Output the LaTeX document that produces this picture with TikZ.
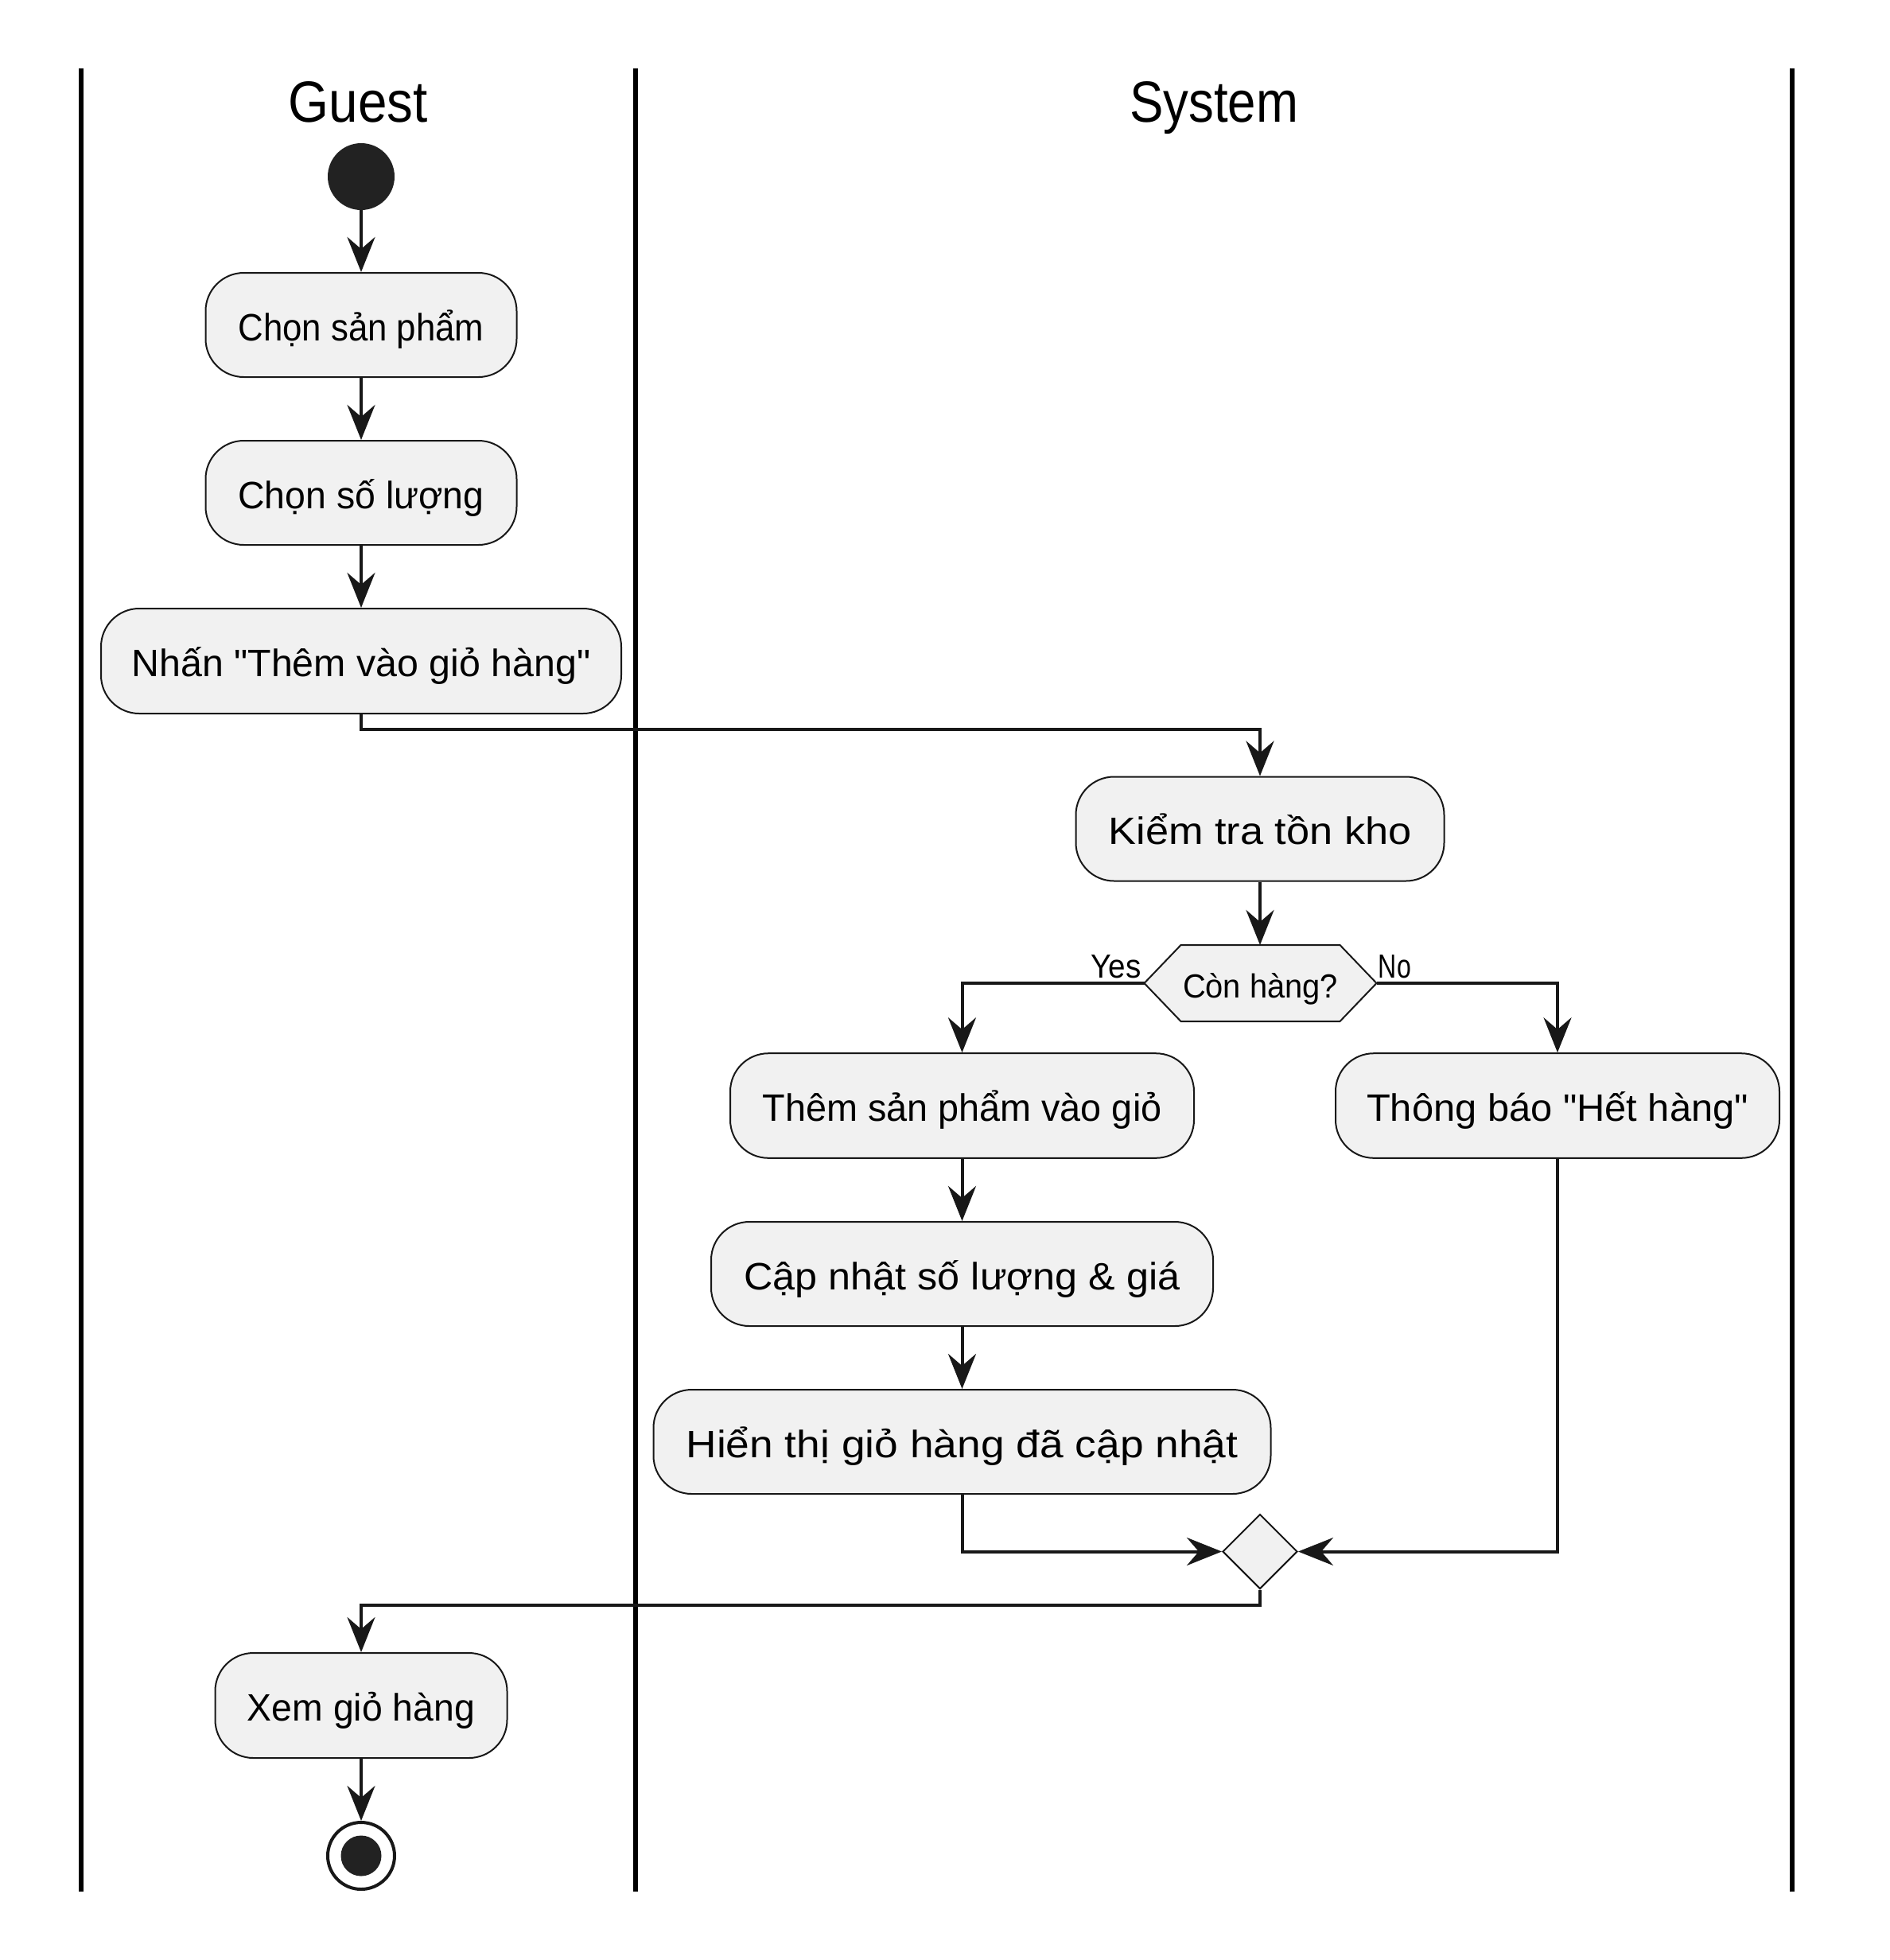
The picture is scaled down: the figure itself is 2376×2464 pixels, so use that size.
\documentclass[tikz,border=0pt]{standalone}
\usepackage{fontspec}
\setmainfont{Liberation Sans}[Ligatures=TeXOff]
\usetikzlibrary{arrows.meta, shapes.geometric, calc}
\definecolor{boxfill}{HTML}{F1F1F1}
\definecolor{lineclr}{HTML}{181818}
\definecolor{dotclr}{HTML}{222222}
\newcommand\fitw[2]{\resizebox{#1}{\height}{#2}}
\begin{document}
\begin{tikzpicture}[x=0.5pt, y=-0.5pt,
  act/.style={draw=lineclr, line width=1pt, fill=boxfill, rounded corners=24pt,
    minimum height=65.5pt, inner sep=0pt, text height=19.5pt, text depth=0pt,
    font=\fontsize{24pt}{28pt}\selectfont},
  flow/.style={draw=lineclr, line width=2pt, -{Stealth[length=22pt, width=17.5pt, inset=7.5pt]}},
  lane/.style={draw=black, line width=3pt},
  lanetitle/.style={font=\fontsize{36.5pt}{40pt}\selectfont, anchor=base, inner sep=0pt},
  guard/.style={font=\fontsize{21pt}{24pt}\selectfont, inner sep=0pt},
]
\useasboundingbox (0,0) rectangle (2376,2464);
\fill[white] (0,0) rectangle (2376,2464);

% swimlanes
\draw[lane] (101.5,86) -- (101.5,2378);
\draw[lane] (798.5,86) -- (798.5,2378);
\draw[lane] (2253,86) -- (2253,2378);
\node[lanetitle] (tguest) at (450,153) {\fitw{87.5pt}{Guest}};
\node[lanetitle] (tsystem) at (1526,153) {\fitw{106pt}{System}};

% start
\node[circle, fill=dotclr, minimum size=42pt, inner sep=0pt] (start) at (454,222) {};

% activities
\node[act, minimum width=195.5pt] (b1) at (454,408.5) {\fitw{154.5pt}{Chọn sản phẩm}};
\node[act, minimum width=195.5pt] (b2) at (454,619.5) {\fitw{154.5pt}{Chọn số lượng}};
\node[act, minimum width=327pt, minimum height=66pt] (b3) at (454,831) {\fitw{288.5pt}{Nhấn "Thêm vào giỏ hàng"}};
\node[act, minimum width=231.5pt] (b4) at (1584,1042) {\fitw{190.5pt}{Kiểm tra tồn kho}};
\node[act, minimum width=291.5pt, minimum height=65.8pt] (b5) at (1209.5,1390) {\fitw{251pt}{Thêm sản phẩm vào giỏ}};
\node[act, minimum width=315.5pt] (b6) at (1209.5,1601.5) {\fitw{274pt}{Cập nhật số lượng \& giá}};
\node[act, minimum width=388pt] (b7) at (1209.5,1812.5) {\fitw{347pt}{Hiển thị giỏ hàng đã cập nhật}};
\node[act, minimum width=279pt, minimum height=65.8pt] (b8) at (1958,1390) {\fitw{240pt}{Thông báo "Hết hàng"}};
\node[act, minimum width=183.5pt, minimum height=66pt] (b9) at (454,2144) {\fitw{143pt}{Xem giỏ hàng}};

% decision hexagon
\draw[fill=boxfill, draw=lineclr, line width=1pt]
  (1438.5,1236) -- (1484.5,1188) -- (1684.5,1188) -- (1730.5,1236) -- (1684.5,1284) -- (1484.5,1284) -- cycle;
\coordinate (decW) at (1438.5,1236);
\coordinate (decE) at (1730.5,1236);
\coordinate (decN) at (1584,1188);
\node[guard, anchor=base] (dec) at (1584.5,1254) {\fitw{97.5pt}{Còn hàng?}};
\node[guard, anchor=base east] (yes) at (1435,1229) {\fitw{31.5pt}{Yes}};
\node[guard, anchor=base west] (no) at (1732.5,1229) {\fitw{20.5pt}{No}};

% merge diamond
\node[diamond, draw=lineclr, line width=1pt, fill=boxfill, minimum width=47pt, minimum height=47pt, inner sep=0pt] (merge) at (1584,1950.5) {};

% end
\node[circle, draw=lineclr, line width=2pt, fill=white, minimum size=42pt, inner sep=0pt] (end) at (454,2333) {};
\node[circle, fill=dotclr, minimum size=25.5pt, inner sep=0pt] (endin) at (end) {};

% connectors
\coordinate (j1) at (1584,916.5);
\coordinate (j2) at (454,2018);
\draw[flow] (start) -- (b1);
\draw[flow] (b1) -- (b2);
\draw[flow] (b2) -- (b3);
\draw[flow] (b3.south) |- (j1) -- (b4.north);
\draw[flow] (b4) -- (decN);
\draw[flow] (decW) -| (b5.north);
\draw[flow] (decE) -| (b8.north);
\draw[flow] (b5) -- (b6);
\draw[flow] (b6) -- (b7);
\draw[flow] (b7.south) |- (merge.west);
\draw[flow] (b8.south) |- (merge.east);
\draw[flow] (merge.south) |- (j2) -- (b9.north);
\draw[flow] (b9) -- (end);
\end{tikzpicture}
\end{document}
